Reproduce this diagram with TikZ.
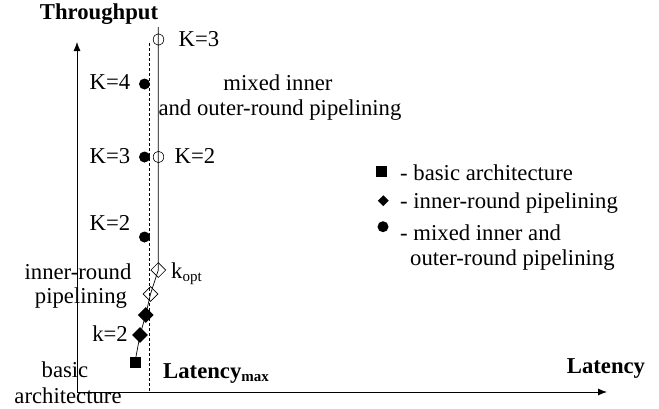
\documentclass[tikz,border=0pt]{standalone}
\usepackage{fontspec}
\setmainfont{Liberation Serif}
\usetikzlibrary{shapes.geometric,arrows.meta}
\begin{document}
\begin{tikzpicture}[x=1pt,y=-1pt,
  txt/.style={inner sep=0pt,font=\fontsize{22.7}{27}\selectfont},
  btxt/.style={inner sep=0pt,font=\fontsize{22.7}{27}\selectfont\bfseries},
  axis/.style={line width=0.8pt,-{Latex[length=9pt,width=7pt]}},
  ocirc/.style={ellipse,draw,line width=0.6pt,minimum width=10.5pt,minimum height=11.5pt,inner sep=0pt},
  fcirc/.style={circle,fill,minimum size=11pt,inner sep=0pt},
  odia/.style={diamond,draw,line width=0.6pt,minimum size=15pt,inner sep=0pt},
  fdia/.style={diamond,fill,minimum size=16pt,inner sep=0pt},
  fsq/.style={rectangle,fill,minimum size=11pt,inner sep=0pt}]
\useasboundingbox (0,0) rectangle (659,408);
% axes
\coordinate (O) at (77,392);
\coordinate (ytip) at (77,42);
\coordinate (xtip) at (607,392);
\draw[axis] (O) -- (ytip);
\draw[axis] (O) -- (xtip);
% dashed latency max line
\coordinate (dtop) at (149.5,43);
\coordinate (dbot) at (149.5,392);
\draw[line width=0.6pt,dash pattern=on 3pt off 2pt] (dtop) -- (dbot);
% markers
\coordinate (stop) at (158.3,27);
\node[fsq] (sq) at (135,362) {};
\node[fdia] (d1) at (140,335) {};
\node[fdia] (d2) at (145.7,315) {};
\node[odia] (d3) at (150.5,294) {};
\node[odia] (d4) at (158.3,270) {};
\draw[line width=0.7pt] (stop) -- (d4.center) -- (d3.center) -- (d2.center) -- (d1.center) -- (sq.center);
\node[ocirc] (c3) at (158.5,39.5) {};
\node[ocirc] (c2) at (158.5,157) {};
\node[fcirc] (f4) at (144.5,84) {};
\node[fcirc] (f3) at (144.5,157) {};
\node[fcirc] (f2) at (144.5,237) {};
% labels
\node[btxt] (ylab) at (99,14) {Throughput};
\node[btxt] (xlab) at (606,369) {Latency};
\node[btxt,anchor=base west] (lmax) at (163,378) {Latency\textsubscript{\fontsize{15}{17}\selectfont max}};
\node[txt] (lk3a) at (199,39) {K=3};
\node[txt] (lk4) at (110,82) {K=4};
\node[txt] (lk3b) at (110,156) {K=3};
\node[txt] (lk2a) at (195,156) {K=2};
\node[txt] (lk2b) at (110,223) {K=2};
\node[txt] (mix1) at (278,83) {mixed inner};
\node[txt] (mix2) at (280,110) {and outer-round pipelining};
\node[txt] (ir1) at (78,272) {inner-round};
\node[txt] (ir2) at (81,298) {pipelining};
\node[txt,anchor=base west] (kopt) at (171,278) {k\textsubscript{\fontsize{15}{17}\selectfont opt}};
\node[txt] (lk2c) at (110,334) {k=2};
\node[txt] (ba1) at (65,370) {basic};
\node[txt,anchor=base] (ba2) at (68,403) {architecture};
% legend
\node[fsq,minimum size=11pt] (lsq) at (381.7,171.7) {};
\node[diamond,fill,minimum size=11pt,inner sep=0pt] (ldia) at (383.3,200.7) {};
\node[fcirc,minimum size=11pt] (lcirc) at (383,226.7) {};
\node[txt,anchor=west] (t1) at (400,173) {- basic architecture};
\node[txt,anchor=west] (t2) at (400,203) {- inner-round pipelining};
\node[txt,anchor=west] (t3) at (400,233) {- mixed inner and};
\node[txt,anchor=west] (t4) at (410,260) {outer-round pipelining};
\end{tikzpicture}
\end{document}
